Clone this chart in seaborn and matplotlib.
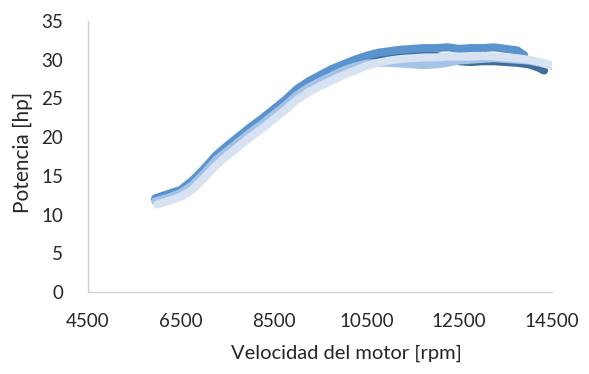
import matplotlib
matplotlib.use("Agg")
import matplotlib.pyplot as plt
import seaborn as sns
import pandas as pd

# ---------------- data ----------------
rpm_d = [5950, 6250, 6500, 6750, 7000, 7250, 7500, 7750, 8000, 8250, 8500, 8750,
         9000, 9250, 9500, 9750, 10000, 10250, 10500, 10750, 11000, 11250, 11500,
         11750, 12000, 12250, 12500, 12750, 13000, 13250, 13500, 13750, 14000,
         14200, 14330]
hp_d = [12.0, 12.5, 13.0, 14.1, 15.7, 17.4, 18.7, 19.9, 21.1, 22.2, 23.4, 24.6,
        26.0, 27.0, 27.8, 28.6, 29.2, 29.8, 30.2, 30.5, 30.7, 30.8, 30.8,
        30.7, 30.5, 30.1, 29.8, 29.7, 29.8, 29.8, 29.7, 29.6, 29.4,
        29.0, 28.6]

rpm_m = [5950, 6250, 6500, 6750, 7000, 7250, 7500, 7750, 8000, 8250, 8500, 8750,
         9000, 9250, 9500, 9750, 10000, 10250, 10500, 10750, 11000, 11250, 11500,
         11750, 12000, 12250, 12500, 12750, 13000, 13250, 13500, 13750, 13900]
hp_m = [12.1, 12.7, 13.2, 14.4, 15.9, 17.6, 18.9, 20.1, 21.3, 22.4, 23.6, 24.8,
        26.2, 27.2, 28.0, 28.8, 29.4, 30.0, 30.5, 30.9, 31.1, 31.3, 31.4,
        31.5, 31.5, 31.6, 31.4, 31.5, 31.5, 31.6, 31.4, 31.2, 30.6]

rpm_l = [5950, 6250, 6500, 6750, 7000, 7250, 7500, 7750, 8000, 8250, 8500, 8750,
         9000, 9250, 9500, 9750, 10000, 10250, 10500, 10750, 11000, 11250, 11500,
         11750, 12000, 12250, 12500, 12750, 13000, 13250, 13500, 13750, 14000,
         14250, 14500]
hp_l = [11.7, 12.2, 12.8, 13.8, 15.3, 17.0, 18.2, 19.4, 20.6, 21.7, 22.9, 24.1,
        25.4, 26.4, 27.2, 27.9, 28.6, 29.1, 29.5, 29.6, 29.6, 29.5, 29.4,
        29.3, 29.4, 29.6, 29.9, 30.0, 30.1, 30.2, 30.1, 30.0, 29.9,
        29.6, 29.2]

rpm_vl = [5990, 6250, 6500, 6750, 7000, 7250, 7500, 7750, 8000, 8250, 8500, 8750,
          9000, 9250, 9500, 9750, 10000, 10250, 10500, 10750, 11000, 11250, 11500,
          11750, 12000, 12250, 12500, 12750, 13000, 13250, 13500, 13750, 14000,
          14250, 14450]
hp_vl = [11.3, 11.8, 12.3, 13.2, 14.7, 16.3, 17.6, 18.8, 20.0, 21.1, 22.3, 23.5,
         24.8, 25.8, 26.6, 27.3, 28.0, 28.6, 29.2, 29.6, 29.9, 30.1, 30.2,
         30.3, 30.3, 30.4, 30.4, 30.4, 30.5, 30.4, 30.3, 30.2, 30.0,
         29.7, 29.3]

x_ticks = [4500, 6500, 8500, 10500, 12500, 14500]
y_ticks = [0, 5, 10, 15, 20, 25, 30, 35]

series = [
    (rpm_d, hp_d, "#3E6D9E"),
    (rpm_m, hp_m, "#5B93CF"),
    (rpm_l, hp_l, "#A4C3E6"),
    (rpm_vl, hp_vl, "#D7E3F3"),
]

# ---------------- figure ----------------
sns.set_theme(style="white")
plt.rcParams["font.family"] = ["Lato", "DejaVu Sans"]

fig = plt.figure(figsize=(5.89, 3.74), dpi=100)
ax = fig.add_axes([88 / 589, 1 - 292 / 374, (552 - 88) / 589, (292 - 21) / 374])

for xs, ys, col in series:
    df = pd.DataFrame({"rpm": xs, "hp": ys})
    sns.lineplot(data=df, x="rpm", y="hp", color=col, linewidth=5.8,
                 sort=False, estimator=None, ax=ax,
                 solid_capstyle="round", solid_joinstyle="round")

ax.set_xlim(4500, 14500)
ax.set_ylim(0, 35)
ax.set_xticks(x_ticks)
ax.set_yticks(y_ticks)
ax.set_xticklabels([str(v) for v in x_ticks])
ax.set_yticklabels([str(v) for v in y_ticks])
ax.tick_params(axis="both", length=0, labelsize=13.5, colors="#262626")
ax.tick_params(axis="x", pad=15)
ax.tick_params(axis="y", pad=18)

for s in ["top", "right"]:
    ax.spines[s].set_visible(False)
for s in ["left", "bottom"]:
    ax.spines[s].set_color("#D0D0D0")
    ax.spines[s].set_linewidth(1.0)

ax.set_xlabel("Velocidad del motor [rpm]", fontsize=14.5, color="#262626")
ax.set_ylabel("Potencia [hp]", fontsize=15, color="#262626")
ax.xaxis.set_label_coords((346 - 88) / (552 - 88), -(345 - 292) / 271)
ax.yaxis.set_label_coords(-(88 - 33) / 464, (292 - 152) / 271)
ax.grid(False)

fig.savefig("out.png", dpi=100)
